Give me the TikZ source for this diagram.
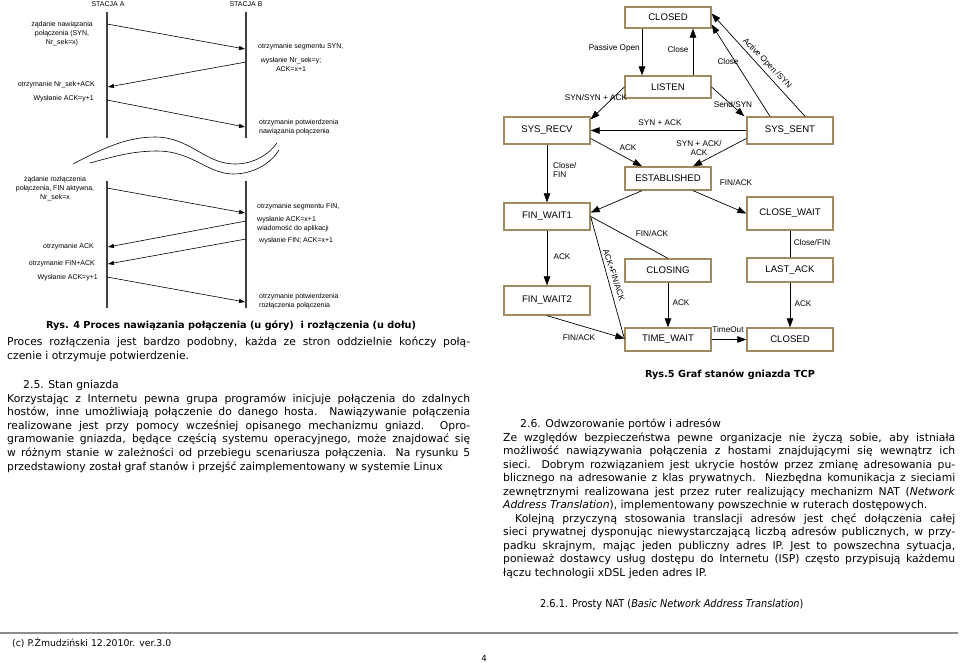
\documentclass[tikz,border=0pt]{standalone}
\usepackage{fontspec}
\setmainfont{DejaVu Sans}
\newfontfamily\arial{Liberation Sans}
\usetikzlibrary{arrows.meta}
\definecolor{boxc}{RGB}{160,138,98}
\newcommand\jl[2]{\makebox[#1][s]{#2}}
\begin{document}
\begin{tikzpicture}[x=1pt,y=-1pt,
  box/.style={draw=boxc, line width=1.3pt, fill=white, minimum width=86pt, inner sep=0pt, font=\arial\fontsize{9.6}{11}\selectfont},
  elbl/.style={font=\arial\fontsize{8.2}{9.5}\selectfont, inner sep=0pt},
  sq/.style={font=\arial\fontsize{7}{9}\selectfont, inner sep=0pt},
  life/.style={line width=1.4pt, black!75},
  msg/.style={line width=0.6pt, -{Triangle[length=6pt,width=4pt]}},
  tr/.style={line width=0.7pt, -{Triangle[length=9pt,width=6.5pt]}},
  pl/.style={line width=0.7pt},
  body/.style={font=\fontsize{10.8}{13.5}\selectfont, inner sep=0pt, anchor=base west},
  capt/.style={font=\bfseries\fontsize{9.7}{11}\selectfont, inner sep=0pt}]
\fill[white] (0,0) rectangle (960,662);
\useasboundingbox (0,0) rectangle (960,662);

% ---------------- sequence diagram (left) ----------------
\node[sq] (sta) at (108,4) {STACJA A};
\node[sq] (stb) at (246,4) {STACJA B};
\coordinate (a1) at (107,12); \coordinate (a2) at (107,138);
\coordinate (b1) at (246,12); \coordinate (b2) at (246,138);
\coordinate (a3) at (107,181); \coordinate (a4) at (107,308);
\coordinate (b3) at (246,181); \coordinate (b4) at (246,308);
\draw[life] (a1) -- (a2); \draw[life] (b1) -- (b2);
\draw[life] (a3) -- (a4); \draw[life] (b3) -- (b4);

\coordinate (m1s) at (107,24);  \coordinate (m1e) at (245,49);
\coordinate (m2s) at (246,62);  \coordinate (m2e) at (108,87);
\coordinate (m3s) at (107,100); \coordinate (m3e) at (245,127);
\draw[msg] (m1s) -- (m1e);
\draw[msg] (m2s) -- (m2e);
\draw[msg] (m3s) -- (m3e);

\node[sq, align=center] (t1) at (62,34) {żądanie nawiązania\\połączenia (SYN,\\Nr\_sek=x)};
\node[sq, anchor=west] (t2) at (258,47) {otrzymanie segmentu SYN,};
\node[sq, align=center] (t3) at (291,64.5) {wysłanie Nr\_sek=y;\\ACK=x+1};
\node[sq, anchor=east] (t4) at (95,85) {otrzymanie Nr\_sek+ACK};
\node[sq, anchor=east] (t5) at (94,99) {Wysłanie ACK=y+1};
\node[sq, anchor=west, align=left] (t6) at (259,127.5) {otrzymanie potwierdzenia\\nawiązania połączenia};

% wavy break
\draw[line width=0.6pt] (73,164) .. controls (100,150) and (125,137) .. (155,137)
  .. controls (190,137) and (205,164) .. (235,164) .. controls (255,164) and (270,153) .. (277,143);
\draw[line width=0.6pt] (90,163) .. controls (112,157) and (132,151) .. (157,151)
  .. controls (192,151) and (208,174) .. (233,174) .. controls (255,174) and (272,162) .. (279,150);

\coordinate (d1s) at (107,188); \coordinate (d1e) at (245,213);
\coordinate (d2s) at (246,221); \coordinate (d2e) at (108,247);
\coordinate (d3s) at (246,239); \coordinate (d3e) at (108,264);
\coordinate (d4s) at (107,277); \coordinate (d4e) at (245,302);
\draw[msg] (d1s) -- (d1e);
\draw[msg] (d2s) -- (d2e);
\draw[msg] (d3s) -- (d3e);
\draw[msg] (d4s) -- (d4e);

\node[sq, align=center] (u1) at (55,188.5) {żądanie rozłączenia\\połączenia, FIN aktywna,\\Nr\_sek=x};
\node[sq, anchor=west] (u2) at (257,207) {otrzymanie segmentu FIN,};
\node[sq, anchor=west, align=left] (u3) at (257,224) {wysłanie ACK=x+1\\wiadomość do aplikacji};
\node[sq, anchor=west] (u4) at (259,241) {wysłanie FIN; ACK=x+1};
\node[sq, anchor=east] (u5) at (94,247) {otrzymanie ACK};
\node[sq, anchor=east] (u6) at (95,264) {otrzymanie FIN+ACK};
\node[sq, anchor=east] (u7) at (98,278) {Wysłanie ACK=y+1};
\node[sq, anchor=west, align=left] (u8) at (259,301.5) {otrzymanie potwierdzenia\\rozłączenia połączenia};

\node[capt] (cap4) at (231,326) {Rys. 4 Proces nawiązania połączenia (u góry)\ \ i rozłączenia (u dołu)};

% ---------------- state graph (right) ----------------
\node[box, minimum height=21pt] (closedA) at (668,17.5) {CLOSED};
\node[box, minimum height=22pt] (listen) at (668,87) {LISTEN};
\node[box, minimum height=27pt] (sysrecv) at (547,130.5) {SYS\_RECV};
\node[box, minimum height=27pt] (syssent) at (790,130.5) {SYS\_SENT};
\node[box, minimum height=23pt] (estab) at (668,178.5) {ESTABLISHED};
\node[box, minimum height=27pt] (fw1) at (547,216.5) {FIN\_WAIT1};
\node[box, minimum height=33pt] (cwait) at (790,213.5) {CLOSE\_WAIT};
\node[box, minimum height=23pt] (closing) at (668,270.5) {CLOSING};
\node[box, minimum height=24pt] (lastack) at (790,270) {LAST\_ACK};
\node[box, minimum height=29pt] (fw2) at (547,300.5) {FIN\_WAIT2};
\node[box, minimum height=23pt] (twait) at (668,339.5) {TIME\_WAIT};
\node[box, minimum height=23pt] (closedB) at (790,339.5) {CLOSED};

\draw[tr] ([xshift=-26pt]closedA.south) -- ([xshift=-26pt]listen.north);
\draw[tr] ([xshift=25pt]listen.north) -- ([xshift=25pt]closedA.south);
\draw[tr] (listen.west) -- ([yshift=-3pt]sysrecv.north east);
\draw[tr] (listen.east) -- ([xshift=-2pt]syssent.north west);
\draw[tr] ([xshift=-20pt]syssent.north) -- ([yshift=-7pt]closedA.east);
\draw[tr] ([xshift=15pt]syssent.north) -- ([yshift=4pt]closedA.east);
\draw[tr] (syssent.west) -- (sysrecv.east);
\draw[tr] ([yshift=-8pt]sysrecv.east) -- ([xshift=-26pt]estab.north);
\draw[tr] ([yshift=-8pt]syssent.west) -- ([xshift=25pt]estab.north);
\draw[tr] (sysrecv.south) -- (fw1.north);
\draw[tr] ([xshift=-26pt]estab.south) -- ([yshift=4pt]fw1.east);
\draw[tr] ([xshift=25pt]estab.south) -- (cwait.west);
\draw[tr] (fw1.south) -- (fw2.north);
\draw[pl] (closing.north) -- (fw1.east);
\draw[pl] (fw1.east) -- ([yshift=1pt]twait.west);
\draw[tr] (fw2.south) -- ([yshift=1pt]twait.west);
\draw[tr] (closing.south) -- (twait.north);
\draw[tr] (twait.east) -- (closedB.west);
\draw[pl] (cwait.south) -- (lastack.north);
\draw[tr] (lastack.south) -- (closedB.north);

\node[elbl, anchor=east] (e1) at (640,48) {Passive Open};
\node[elbl] (e2) at (678,50) {Close};
\node[elbl] (e3) at (596,98) {SYN/SYN + ACK};
\node[elbl] (e4) at (733,105) {Send/SYN};
\node[elbl] (e5) at (728,62) {Close};
\node[elbl, rotate=-46] (e6) at (767,63.5) {Active Open /SYN};
\node[elbl] (e7) at (660,123) {SYN + ACK};
\node[elbl] (e8) at (628,148) {ACK};
\node[elbl, align=center] (e9) at (699,148) {SYN + ACK/\\ACK};
\node[elbl, anchor=west, align=left] (e10) at (553,170) {Close/\\FIN};
\node[elbl] (e11) at (736,183) {FIN/ACK};
\node[elbl] (e12) at (562,257) {ACK};
\node[elbl] (e13) at (652,234) {FIN/ACK};
\node[elbl, rotate=-72] (e14) at (614,275) {ACK+FIN/ACK};
\node[elbl] (e15) at (579,338) {FIN/ACK};
\node[elbl] (e16) at (681,303) {ACK};
\node[elbl] (e17) at (728,330) {TimeOut};
\node[elbl] (e18) at (812,243) {Close/FIN};
\node[elbl] (e19) at (803,304) {ACK};

\node[capt] (cap5) at (730,375) {Rys.5 Graf stanów gniazda TCP};

% ---------------- body text (left) ----------------
\node[body] (p1) at (7,345) {\jl{463pt}{Proces rozłączenia jest bardzo podobny, każda ze stron oddzielnie kończy połą-}};
\node[body] (p2) at (7,359) {czenie i otrzymuje potwierdzenie.};
\node[body] (h25) at (23,388) {2.5. Stan gniazda};
\node[body] (q1) at (7,402) {\jl{463pt}{Korzystając z Internetu pewna grupa programów inicjuje połączenia do zdalnych}};
\node[body] (q2) at (7,415.6) {\jl{463pt}{hostów, inne umożliwiają połączenie do danego hosta. Nawiązywanie połączenia}};
\node[body] (q3) at (7,429.2) {\jl{463pt}{realizowane jest przy pomocy wcześniej opisanego mechanizmu gniazd. Opro-}};
\node[body] (q4) at (7,442.8) {\jl{463pt}{gramowanie gniazda, będące częścią systemu operacyjnego, może znajdować się}};
\node[body] (q5) at (7,456.4) {\jl{463pt}{w różnym stanie w zależności od przebiegu scenariusza połączenia. Na rysunku 5}};
\node[body] (q6) at (7,470) {przedstawiony został graf stanów i przejść zaimplementowany w systemie Linux};

% ---------------- body text (right) ----------------
\node[body] (h26) at (520,427) {2.6. Odwzorowanie portów i adresów};
\node[body] (r1) at (503,441) {\jl{452pt}{Ze względów bezpieczeństwa pewne organizacje nie życzą sobie, aby istniała}};
\node[body] (r2) at (503,454.5) {\jl{452pt}{możliwość nawiązywania połączenia z hostami znajdującymi się wewnątrz ich}};
\node[body] (r3) at (503,468) {\jl{452pt}{sieci. Dobrym rozwiązaniem jest ukrycie hostów przez zmianę adresowania pu-}};
\node[body] (r4) at (503,481.5) {\jl{452pt}{blicznego na adresowanie z klas prywatnych. Niezbędna komunikacja z sieciami}};
\node[body] (r5) at (503,495) {\jl{452pt}{zewnętrznymi realizowana jest przez ruter realizujący mechanizm NAT (\textit{Network}}};
\node[body] (r6) at (503,508.5) {\textit{Address Translation}), implementowany powszechnie w ruterach dostępowych.};
\node[body] (r7) at (515,522) {\jl{440pt}{Kolejną przyczyną stosowania translacji adresów jest chęć dołączenia całej}};
\node[body] (r8) at (503,535.5) {\jl{452pt}{sieci prywatnej dysponując niewystarczającą liczbą adresów publicznych, w przy-}};
\node[body] (r9) at (503,549) {\jl{452pt}{padku skrajnym, mając jeden publiczny adres IP. Jest to powszechna sytuacja,}};
\node[body] (r10) at (503,562.5) {\jl{452pt}{ponieważ dostawcy usług dostępu do Internetu (ISP) często przypisują każdemu}};
\node[body] (r11) at (503,576) {łączu technologii xDSL jeden adres IP.};
\node[body] (h261) at (540,607) {\scalebox{0.9}[1]{2.6.1. Prosty NAT (\textit{Basic Network Address Translation})}};

% ---------------- footer ----------------
\draw[line width=1.2pt, black!45] (0,633) -- (958,633);
\node[body, font=\fontsize{9.3}{11}\selectfont] (foot) at (12,646.5) {(c) P.Żmudziński 12.2010r. ver.3.0};
\node[body, anchor=base, font=\fontsize{8.5}{9}\selectfont] (pg) at (484,661.5) {4};
\end{tikzpicture}
\end{document}
